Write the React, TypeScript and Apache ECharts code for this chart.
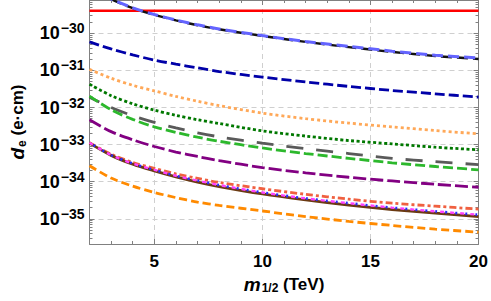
import React, { useEffect, useRef } from "react";
import * as echarts from "echarts";

// x positions (m_1/2 in TeV) at which the curves were read
const xValues = [2, 3, 4, 5, 6, 7, 8, 10, 12, 14, 16, 18, 20];
// log10(d_e / e·cm) for each curve
const limitLog = -29.39;
const lightBlueDashed = [-28.73, -29.07, -29.31, -29.49, -29.64, -29.77, -29.88, -30.06, -30.22, -30.35, -30.48, -30.59, -30.66];
const blackDashed = [-28.74, -29.08, -29.32, -29.5, -29.65, -29.78, -29.89, -30.07, -30.23, -30.37, -30.5, -30.61, -30.69];
const navyDashed = [-30.23, -30.42, -30.58, -30.72, -30.83, -30.93, -31.03, -31.18, -31.31, -31.43, -31.54, -31.63, -31.72];
const sandyDotted = [-30.97, -31.21, -31.4, -31.55, -31.7, -31.83, -31.95, -32.15, -32.3, -32.42, -32.52, -32.62, -32.71];
const darkGreenDotted = [-31.37, -31.68, -31.9, -32.07, -32.21, -32.33, -32.43, -32.63, -32.77, -32.89, -32.98, -33.07, -33.14];
const grayLongDashed = [-31.72, -32.0, -32.22, -32.4, -32.55, -32.68, -32.79, -32.96, -33.11, -33.24, -33.37, -33.46, -33.54];
const greenDashed = [-31.69, -32.06, -32.32, -32.52, -32.67, -32.8, -32.91, -33.09, -33.24, -33.37, -33.49, -33.59, -33.68];
const purpleDashed = [-32.33, -32.65, -32.87, -33.05, -33.2, -33.32, -33.43, -33.62, -33.76, -33.88, -33.98, -34.07, -34.15];
const tomatoDashDot = [-32.95, -33.26, -33.48, -33.64, -33.79, -33.91, -34.02, -34.19, -34.34, -34.47, -34.58, -34.66, -34.74];
const magentaDashed = [-32.95, -33.28, -33.51, -33.68, -33.84, -33.97, -34.09, -34.29, -34.45, -34.58, -34.7, -34.8, -34.89];
const blueDotted = [-32.95, -33.28, -33.51, -33.68, -33.84, -33.97, -34.09, -34.29, -34.45, -34.58, -34.7, -34.8, -34.89];
const brownSolid = [-32.96, -33.29, -33.53, -33.71, -33.87, -34.01, -34.13, -34.33, -34.49, -34.63, -34.75, -34.85, -34.94];
const orangeDashed = [-33.57, -33.9, -34.12, -34.29, -34.43, -34.55, -34.64, -34.79, -34.94, -35.07, -35.18, -35.28, -35.36];

// axes
const X_MIN = 2;
const X_MAX = 20;
const Y_MIN = -35.68;
const Y_MAX = -29.1;
const xMajor = [5, 10, 15, 20];
const xMinor = [3, 4, 6, 7, 8, 9, 11, 12, 13, 14, 16, 17, 18, 19];
const yMajor = [-35, -34, -33, -32, -31, -30];
const yMinor: number[] = [];
for (let n = -36; n <= -30; n++) {
  for (let k = 2; k <= 9; k++) {
    const v = n + Math.log10(k);
    if (v > Y_MIN && v < Y_MAX) yMinor.push(v);
  }
}

const FONT = "'Liberation Sans', Arial, sans-serif";
const FRAME = "#808080";

const pts = (arr: number[]) => xValues.map((x, i) => [x, arr[i]]);

function lineSeries(name: string, arr: number[], color: string, type: any, width = 2.6, dashOffset = 0) {
  return {
    name,
    type: "line",
    data: pts(arr),
    xAxisIndex: 0,
    yAxisIndex: 0,
    showSymbol: false,
    smooth: 0.3,
    clip: true,
    lineStyle: { color, width, type, dashOffset, cap: "butt" },
  };
}

export default function App() {
  const ref = useRef<HTMLDivElement>(null);
  useEffect(() => {
    if (!ref.current) return;
    const chart = echarts.init(ref.current, undefined, { renderer: "svg" });
    const supText = (v: number) => "\u2212" + String(Math.abs(Math.round(v)));
    const baseX = { type: "value", min: X_MIN, max: X_MAX, gridIndex: 0 };
    const baseY = { type: "value", min: Y_MIN, max: Y_MAX, gridIndex: 0 };
    const hidden = { show: false };
    const nameRich = {
      i: { fontSize: 19, fontStyle: "italic", fontWeight: "bold", fontFamily: FONT, color: "#000" },
      sub: { fontSize: 12, fontWeight: "bold", fontFamily: FONT, color: "#000", padding: [8, 0, 0, 1] },
      n: { fontSize: 17, fontWeight: "bold", fontFamily: FONT, color: "#000" },
    };
    chart.setOption({
      animation: false,
      grid: { left: 84, right: 11, top: 0, bottom: 57, containLabel: false },
      xAxis: [
        {
          ...baseX,
          position: "bottom",
          axisLine: { show: true, onZero: false, lineStyle: { color: FRAME, width: 1 } },
          axisTick: { show: true, inside: true, length: 5, customValues: xMajor, lineStyle: { color: FRAME } },
          axisLabel: {
            customValues: xMajor,
            margin: 9,
            color: "#000",
            fontSize: 17,
            fontWeight: "bold",
            fontFamily: FONT,
          },
          splitLine: { show: true, lineStyle: { color: "#cfcfcf", type: [5, 4], width: 1 } },
          name: "{i|m}{sub|1/2}{n| (TeV)}",
          nameLocation: "middle",
          nameGap: 26,
          nameTextStyle: { color: "#000", fontFamily: FONT, fontWeight: "bold", fontSize: 17, rich: nameRich },
        },
        {
          ...baseX,
          position: "bottom",
          axisLine: hidden,
          axisTick: { show: true, inside: true, length: 3, customValues: xMinor, lineStyle: { color: FRAME } },
          axisLabel: hidden,
          splitLine: hidden,
        },
        {
          ...baseX,
          position: "top",
          axisLine: { show: true, onZero: false, lineStyle: { color: FRAME, width: 1 } },
          axisTick: { show: true, inside: true, length: 5, customValues: xMajor, lineStyle: { color: FRAME } },
          axisLabel: hidden,
          splitLine: hidden,
        },
        {
          ...baseX,
          position: "top",
          axisLine: hidden,
          axisTick: { show: true, inside: true, length: 3, customValues: xMinor, lineStyle: { color: FRAME } },
          axisLabel: hidden,
          splitLine: hidden,
        },
      ],
      yAxis: [
        {
          ...baseY,
          position: "left",
          axisLine: { show: true, onZero: false, lineStyle: { color: FRAME, width: 1 } },
          axisTick: { show: true, inside: true, length: 5, customValues: yMajor, lineStyle: { color: FRAME } },
          axisLabel: {
            customValues: yMajor,
            margin: 5,
            formatter: (v: number) => `{b|10}{s|${supText(v)}}`,
            rich: {
              b: { fontSize: 18, fontWeight: "bold", fontFamily: FONT, color: "#000" },
              s: { fontSize: 14, fontWeight: "bold", fontFamily: FONT, color: "#000", padding: [0, 0, 10, 1] },
            },
          },
          splitLine: { show: true, lineStyle: { color: "#cfcfcf", type: [5, 4], width: 1 } },
          name: "{i|d}{sub|e}{n| (e\u00b7cm)}",
          nameLocation: "middle",
          nameGap: 62,
          nameRotate: 90,
          nameTextStyle: { color: "#000", fontFamily: FONT, fontWeight: "bold", fontSize: 17, rich: nameRich },
        },
        {
          ...baseY,
          position: "left",
          axisLine: hidden,
          axisTick: { show: true, inside: true, length: 3, customValues: yMinor, lineStyle: { color: FRAME } },
          axisLabel: hidden,
          splitLine: hidden,
        },
        {
          ...baseY,
          position: "right",
          axisLine: { show: true, onZero: false, lineStyle: { color: FRAME, width: 1 } },
          axisTick: { show: true, inside: true, length: 5, customValues: yMajor, lineStyle: { color: FRAME } },
          axisLabel: hidden,
          splitLine: hidden,
        },
        {
          ...baseY,
          position: "right",
          axisLine: hidden,
          axisTick: { show: true, inside: true, length: 3, customValues: yMinor, lineStyle: { color: FRAME } },
          axisLabel: hidden,
          splitLine: hidden,
        },
      ],
      series: [
        {
          name: "limit",
          type: "line",
          data: [
            [X_MIN, limitLog],
            [X_MAX, limitLog],
          ],
          showSymbol: false,
          lineStyle: { color: "#ff0000", width: 2.6 },
        },
        lineSeries("black", blackDashed, "#111111", [11, 5], 2.4, 7),
        lineSeries("lightBlue", lightBlueDashed, "#6464ff", [11, 5], 3),
        lineSeries("navy", navyDashed, "#0000a8", [10, 4], 2.8),
        lineSeries("sandy", sandyDotted, "#ffa858", [3, 3], 2.8),
        lineSeries("darkGreen", darkGreenDotted, "#007800", [3, 2.5], 2.8),
        lineSeries("gray", grayLongDashed, "#5a5a5a", [17, 13], 2.8, 6),
        lineSeries("green", greenDashed, "#2cb82c", [10, 4], 2.8),
        lineSeries("purple", purpleDashed, "#820082", [13, 4], 2.8),
        lineSeries("orange", orangeDashed, "#ff8a00", [8, 4], 2.8),
        lineSeries("tomato", tomatoDashDot, "#f06040", [7, 3, 3, 3], 2.8),
        lineSeries("brown", brownSolid, "#6b3a12", "solid", 2.8),
        lineSeries("magenta", magentaDashed, "#ff40ff", [4, 6], 2.4),
        lineSeries("blueDots", blueDotted, "#2a2aff", [2, 8], 2.6, 5),
      ],
    });
    return () => chart.dispose();
  }, []);
  return (
    <div
      ref={ref}
      style={{ position: "fixed", left: 0, top: 0, width: 491, height: 301, background: "#fff" }}
    />
  );
}
